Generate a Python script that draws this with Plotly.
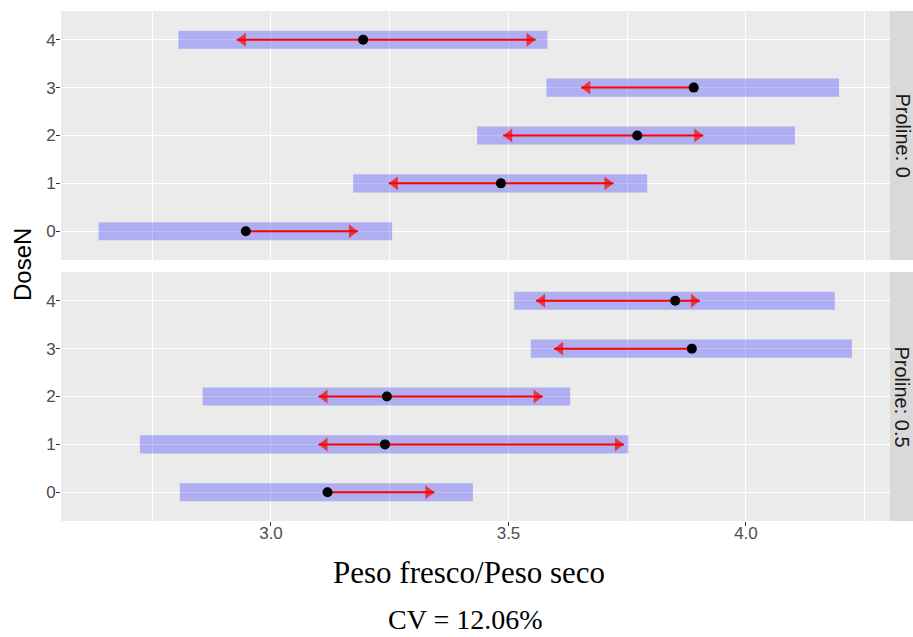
import plotly.graph_objects as go

# ---------------- data ----------------
doses = [0, 1, 2, 3, 4]
panels = ["Proline: 0", "Proline: 0.5"]

mean_p0 = [2.947, 3.484, 3.771, 3.890, 3.194]
low_p0 = [2.637, 3.173, 3.434, 3.580, 2.805]
high_p0 = [3.255, 3.792, 4.103, 4.196, 3.582]
left_p0 = [None, 3.248, 3.489, 3.653, 2.928]
right_p0 = [3.183, 3.721, 3.910, None, 3.557]

mean_p05 = [3.119, 3.240, 3.244, 3.886, 3.851]
low_p05 = [2.808, 2.724, 2.856, 3.547, 3.512]
high_p05 = [3.425, 3.752, 3.630, 4.223, 4.187]
left_p05 = [None, 3.100, 3.100, 3.596, 3.558]
right_p05 = [3.344, 3.743, 3.572, None, 3.903]

x_ticks = [3.0, 3.5, 4.0]
x_tick_labels = ["3.0", "3.5", "4.0"]
x_title = "Peso fresco/Peso seco"
y_title = "DoseN"
cv_text = "CV = 12.06%"

# ---------------- figure ----------------
fig = go.Figure()

panel_data = [
    ("x2", "y2", mean_p0, low_p0, high_p0, left_p0, right_p0),
    ("x", "y", mean_p05, low_p05, high_p05, left_p05, right_p05),
]

HEAD = 12  # arrowhead marker size (px)

for xa, ya, mean, low, high, left, right in panel_data:
    # confidence bars
    fig.add_trace(go.Bar(
        y=doses, x=[h - l for h, l in zip(high, low)], base=low,
        orientation="h", width=0.38,
        marker=dict(color="rgba(0,0,255,0.26)", line=dict(width=0)),
        xaxis=xa, yaxis=ya, showlegend=False, hoverinfo="skip",
    ))
    # comparison arrows
    ax, ay, sz = [], [], []
    for d, m, le, ri in zip(doses, mean, left, right):
        for end in (le, ri):
            if end is None:
                continue
            ax += [m, end, None]
            ay += [d, d, None]
            sz += [0, HEAD, 0]
    fig.add_trace(go.Scatter(
        x=ax, y=ay, mode="lines",
        line=dict(color="#FF0000", width=2),
        xaxis=xa, yaxis=ya, showlegend=False, hoverinfo="skip",
    ))
    fig.add_trace(go.Scatter(
        x=ax, y=ay, mode="markers",
        marker=dict(symbol="triangle-up", angleref="previous", size=sz,
                    standoff=HEAD / 2, color="#FF0000", line=dict(width=0)),
        xaxis=xa, yaxis=ya, showlegend=False, hoverinfo="skip",
    ))
    # means
    fig.add_trace(go.Scatter(
        x=mean, y=doses, mode="markers",
        marker=dict(color="black", size=10, symbol="circle"),
        xaxis=xa, yaxis=ya, showlegend=False,
    ))

tickfont = dict(family="Liberation Sans, Arial, sans-serif", size=17, color="#4D4D4D")
xrange = [2.5579, 4.3032]
yrange = [-0.6, 4.6]

common_x = dict(
    range=xrange, tickmode="array", tickvals=x_ticks, ticktext=x_tick_labels,
    showgrid=True, gridcolor="white", gridwidth=1.1, zeroline=False,
    minor=dict(tickmode="array", tickvals=[2.75, 3.25, 3.75, 4.25],
               showgrid=True, gridcolor="white", gridwidth=0.55, ticklen=0),
    showline=False, tickfont=tickfont,
)
common_y = dict(
    range=yrange, tickmode="array", tickvals=doses, ticktext=[str(d) for d in doses],
    showgrid=True, gridcolor="white", gridwidth=1.1, zeroline=False,
    ticks="outside", ticklen=4, tickwidth=1, tickcolor="#333333",
    showline=False, tickfont=tickfont, ticklabelstandoff=-3,
)

fig.update_layout(
    width=913, height=637,
    margin=dict(l=61, r=23, t=11, b=116, autoexpand=False),
    paper_bgcolor="white", plot_bgcolor="#EBEBEB",
    barmode="overlay",
    xaxis=dict(common_x, anchor="y", ticks="outside", ticklen=4, tickwidth=1,
               tickcolor="#333333", ticklabelstandoff=-7),
    xaxis2=dict(common_x, anchor="y2", matches="x", showticklabels=False, ticks=""),
    yaxis=dict(common_y, domain=[0, 0.4882], anchor="x"),
    yaxis2=dict(common_y, domain=[0.5118, 1], anchor="x2"),
    showlegend=False,
)

# facet strips
strip_domains = [(0.5118, 1.0), (0.0, 0.4882)]
for label, (y0, y1) in zip(panels, strip_domains):
    fig.add_shape(type="rect", xref="paper", yref="paper",
                  x0=1.0, x1=1.035, y0=y0, y1=y1,
                  fillcolor="#D9D9D9", line=dict(width=0), layer="below")
    fig.add_annotation(text=label, xref="paper", yref="paper",
                       x=1.0145, y=(y0 + y1) / 2, textangle=90,
                       showarrow=False, xanchor="center", yanchor="middle",
                       font=dict(family="Liberation Sans, Arial, sans-serif",
                                 size=20, color="#1A1A1A"))

# titles
fig.add_annotation(text=y_title, xref="paper", yref="paper",
                   x=-0.0458, y=0.502, textangle=-90, showarrow=False,
                   xanchor="center", yanchor="middle",
                   font=dict(family="Liberation Sans, Arial, sans-serif", size=24, color="black"))
fig.add_annotation(text=x_title, xref="paper", yref="paper",
                   x=0.492, y=-0.100, showarrow=False,
                   xanchor="center", yanchor="middle",
                   font=dict(family="Liberation Serif, Times New Roman, serif", size=31, color="black"))
fig.add_annotation(text=cv_text, xref="paper", yref="paper",
                   x=0.488, y=-0.194, showarrow=False,
                   xanchor="center", yanchor="middle",
                   font=dict(family="Liberation Serif, Times New Roman, serif", size=28, color="black"))

fig.write_html("out.html", config={"displayModeBar": False},
               post_script="document.body.style.margin='0';document.body.style.overflow='hidden';")
